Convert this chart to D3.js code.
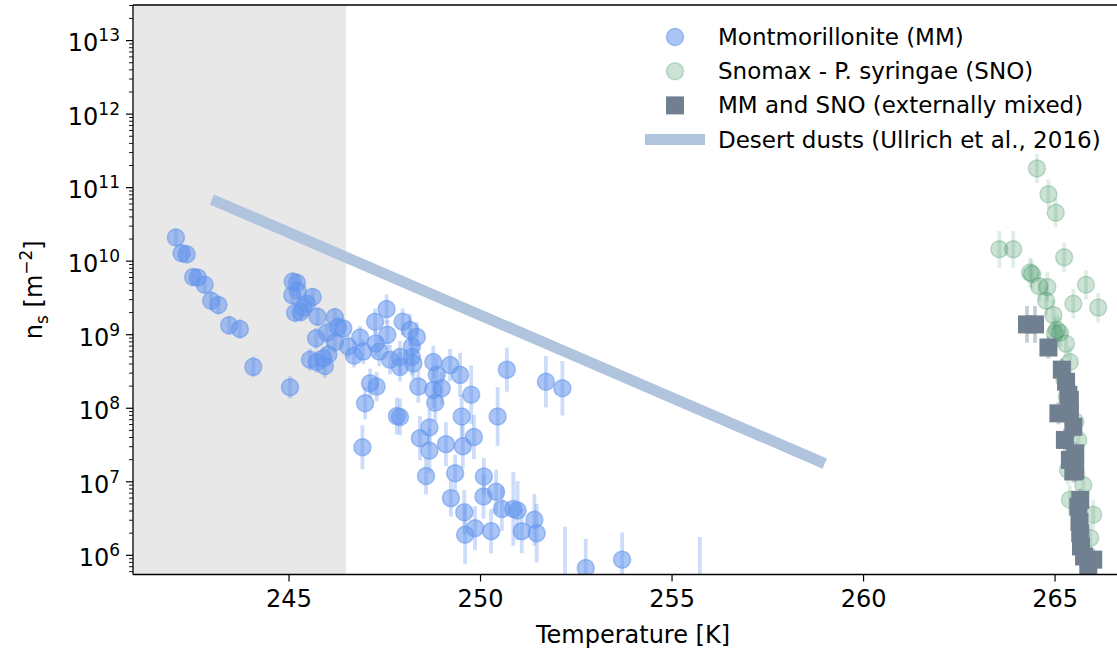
<!DOCTYPE html>
<html>
<head>
<meta charset="utf-8">
<script src="https://cdn.jsdelivr.net/npm/d3@7"></script>
<style>
  body { margin: 0; background: #fff; }
  svg { display: block; font-family: "DejaVu Sans", sans-serif; }
</style>
</head>
<body>
<div id="chart"></div>
<script>
// axis limits and ticks
const xLimits = [240.94, 266.63];
const yLimits = [5.4e5, 3e13];
const xTicks = [245, 250, 255, 260, 265];
const yTickExponents = [6, 7, 8, 9, 10, 11, 12, 13];
const shadedRange = [240.94, 246.5];

// Montmorillonite (MM): temperature [K], ns [m-2], error half-width [decades]
const mmTemp = [242.06, 242.21, 242.34, 242.51, 242.63, 242.81, 242.98, 243.17, 243.45, 243.73, 244.08, 245.04,
  245.11, 245.22, 245.24, 245.10, 245.63, 245.48, 245.39, 245.17, 245.32, 245.76, 246.21, 246.43, 246.29, 246.00,
  245.72, 246.21, 246.04, 245.56, 245.74, 245.91, 245.95, 246.56, 246.87, 246.71, 246.95, 247.26, 247.56, 247.98,
  247.58, 247.28, 247.37, 247.65, 247.91, 248.17, 248.35, 248.22, 248.22, 248.26, 247.91, 248.78, 248.87, 249.22,
  247.13, 247.30, 248.39, 248.78, 249.00, 248.83, 247.00, 247.83, 247.91, 248.68, 248.43, 246.93, 249.48, 249.77,
  249.52, 250.46, 250.70, 251.72, 252.15, 248.68, 249.11, 249.55, 249.84, 248.59, 249.35, 249.24, 250.10, 250.09,
  250.42, 249.59, 250.57, 250.87, 250.98, 251.42, 249.87, 249.61, 250.29, 251.09, 251.48, 252.76, 253.71, 252.22,
  255.74];
const mmNs = [2.07e10, 1.26e10, 1.22e10, 6.0e9, 5.9e9, 4.7e9, 2.85e9, 2.5e9, 1.32e9, 1.18e9, 3.6e8, 1.9e8,
  5.2e9, 5.0e9, 3.9e9, 3.4e9, 3.2e9, 2.6e9, 2.3e9, 1.96e9, 2.0e9, 1.73e9, 1.7e9, 1.2e9, 1.25e9, 1.05e9,
  8.8e8, 7.8e8, 5.3e8, 4.5e8, 4.2e8, 4.7e8, 3.7e8, 6.8e8, 9.0e8, 5.1e8, 5.8e8, 1.48e9, 2.2e9, 1.48e9,
  9.8e8, 7.5e8, 5.8e8, 4.5e8, 4.9e8, 1.14e9, 9.2e8, 6.8e8, 4.9e8, 4.0e8, 3.6e8, 4.2e8, 2.8e8, 3.8e8,
  2.15e8, 1.94e8, 1.94e8, 1.75e8, 1.84e8, 1.17e8, 1.15e8, 7.7e7, 7.5e7, 5.4e7, 3.85e7, 2.9e7, 2.8e8, 1.5e8,
  7.6e7, 7.6e7, 3.3e8, 2.26e8, 1.84e8, 2.6e7, 3.2e7, 3.0e7, 4.0e7, 1.18e7, 1.29e7, 5.9e6, 1.16e7, 6.2e6,
  7.2e6, 3.8e6, 4.2e6, 4.2e6, 4.0e6, 3.0e6, 2.3e6, 1.87e6, 2.1e6, 2.1e6, 1.97e6, 6.6e5, 8.6e5, 4.0e5,
  4.0e5];
const mmErr = [0.12, 0.12, 0.12, 0.12, 0.12, 0.12, 0.13, 0.13, 0.13, 0.13, 0.14, 0.15,
  0.12, 0.12, 0.12, 0.12, 0.12, 0.12, 0.13, 0.13, 0.13, 0.13, 0.13, 0.14, 0.14, 0.14,
  0.14, 0.15, 0.15, 0.15, 0.15, 0.15, 0.16, 0.15, 0.16, 0.16, 0.17, 0.18, 0.2, 0.18,
  0.2, 0.18, 0.2, 0.2, 0.22, 0.22, 0.2, 0.25, 0.25, 0.22, 0.2, 0.22, 0.25, 0.22,
  0.2, 0.2, 0.22, 0.25, 0.22, 0.25, 0.22, 0.25, 0.25, 0.25, 0.3, 0.3, 0.3, 0.4,
  0.3, 0.4, 0.3, 0.35, 0.37, 0.3, 0.3, 0.3, 0.3, 0.25, 0.25, 0.25, 0.25, 0.3,
  0.3, 0.3, 0.3, 0.5, 0.4, 0.35, 0.3, 0.4, 0.3, 0.3, 0.4, 0.4, 0.37, 0.78,
  0.64];

// Snomax - P. syringae (SNO)
const snoTemp = [264.54, 264.84, 265.03, 263.56, 263.92, 265.25, 264.36, 264.41, 264.60, 264.81, 265.82, 264.78,
  265.49, 266.14, 264.97, 265.01, 265.14, 265.06, 265.30, 265.40, 265.26, 265.32, 265.54, 265.62, 265.35, 265.75,
  265.40, 266.01, 265.93];
const snoNs = [1.8e11, 8.0e10, 4.5e10, 1.43e10, 1.43e10, 1.11e10, 6.9e9, 6.6e9, 4.5e9, 4.4e9, 4.7e9, 2.85e9,
  2.6e9, 2.3e9, 1.82e9, 1.03e9, 1.05e9, 1.14e9, 7.4e8, 4.2e8, 2.4e8, 1.42e8, 6.5e7, 3.65e7, 1.43e7, 8.9e6,
  5.6e6, 3.5e6, 1.7e6];
const snoErr = [0.2, 0.2, 0.2, 0.25, 0.25, 0.2, 0.2, 0.2, 0.2, 0.2, 0.2, 0.2,
  0.2, 0.2, 0.2, 0.2, 0.2, 0.2, 0.2, 0.2, 0.2, 0.2, 0.2, 0.2, 0.2, 0.2,
  0.2, 0.2, 0.2];

// MM and SNO (externally mixed)
const mixTemp = [264.28, 264.49, 264.84, 265.19, 265.30, 265.36, 265.40, 265.10, 265.40, 265.49, 265.27, 265.54,
  265.40, 265.49, 265.54, 265.62, 265.67, 265.65, 265.67, 265.69, 265.77, 266.01, 265.88];
const mixNs = [1.36e9, 1.36e9, 6.6e8, 3.3e8, 2.26e8, 1.5e8, 1.28e8, 8.4e7, 8.4e7, 5.5e7, 3.65e7, 2.4e7,
  1.95e7, 1.36e7, 1.4e7, 4.5e6, 5.6e6, 2.8e6, 1.97e6, 1.3e6, 9.5e5, 8.6e5, 6.9e5];
const mixErr = [0.25, 0.25, 0.15, 0.15, 0.15, 0.15, 0.15, 0.15, 0.15, 0.15, 0.15, 0.15,
  0.15, 0.15, 0.15, 0.15, 0.15, 0.15, 0.15, 0.15, 0.15, 0.15, 0.15];

// Desert dusts (Ullrich et al., 2016) end points
const dustTemp = [243, 259];
const dustNs = [6.8e10, 1.74e7];

const legendLabels = ['Montmorillonite (MM)', 'Snomax - P. syringae (SNO)',
  'MM and SNO (externally mixed)', 'Desert dusts (Ullrich et al., 2016)'];

(function () {

  const width = 1117;
  const height = 657;
  const plot = { left: 133, right: 1117, top: 5, bottom: 574.5 };

  const svg = d3.select('#chart')
    .append('svg')
    .attr('width', width)
    .attr('height', height);

  const x = d3.scaleLinear().domain(xLimits).range([plot.left, plot.right]);
  const y = d3.scaleLog().domain(yLimits).range([plot.bottom, plot.top]);

  // clip everything to the axes box
  svg.append('defs').append('clipPath').attr('id', 'clip')
    .append('rect')
    .attr('x', plot.left).attr('y', plot.top)
    .attr('width', plot.right - plot.left).attr('height', plot.bottom - plot.top);

  const area = svg.append('g').attr('clip-path', 'url(#clip)');

  // shaded temperature range
  area.append('rect')
    .attr('x', x(shadedRange[0]))
    .attr('y', plot.top)
    .attr('width', x(shadedRange[1]) - x(shadedRange[0]))
    .attr('height', plot.bottom - plot.top)
    .attr('fill', '#e8e8e8');

  const zip = (t, n, e) => t.map((d, i) => ({ t: d, ns: n[i], err: e[i] }));
  const mm = zip(mmTemp, mmNs, mmErr);
  const sno = zip(snoTemp, snoNs, snoErr);
  const mix = zip(mixTemp, mixNs, mixErr);

  // draws vertical error bars
  function errorBars(data, color, opacity) {
    area.append('g')
      .selectAll('line')
      .data(data)
      .join('line')
      .attr('x1', d => x(d.t))
      .attr('x2', d => x(d.t))
      .attr('y1', d => y(d.ns / Math.pow(10, d.err)))
      .attr('y2', d => y(d.ns * Math.pow(10, d.err)))
      .attr('stroke', color)
      .attr('stroke-opacity', opacity)
      .attr('stroke-width', 3.8);
  }

  // MM
  errorBars(mm, '#6495ed', 0.33);
  area.append('g')
    .selectAll('circle')
    .data(mm)
    .join('circle')
    .attr('cx', d => x(d.t))
    .attr('cy', d => y(d.ns))
    .attr('r', 8.5)
    .attr('fill', '#6495ed')
    .attr('fill-opacity', 0.55)
    .attr('stroke', '#6495ed')
    .attr('stroke-opacity', 0.55)
    .attr('stroke-width', 1.5);

  // SNO
  errorBars(sno, '#2e8b57', 0.15);
  area.append('g')
    .selectAll('circle')
    .data(sno)
    .join('circle')
    .attr('cx', d => x(d.t))
    .attr('cy', d => y(d.ns))
    .attr('r', 8.5)
    .attr('fill', '#2e8b57')
    .attr('fill-opacity', 0.25)
    .attr('stroke', '#2e8b57')
    .attr('stroke-opacity', 0.25)
    .attr('stroke-width', 1.5);

  // mixed
  errorBars(mix, '#708090', 0.4);
  area.append('g')
    .selectAll('rect')
    .data(mix)
    .join('rect')
    .attr('x', d => x(d.t) - 9)
    .attr('y', d => y(d.ns) - 9)
    .attr('width', 18)
    .attr('height', 18)
    .attr('fill', '#708090');

  // desert dust parameterisation
  area.append('path')
    .datum(dustTemp.map((t, i) => [t, dustNs[i]]))
    .attr('d', d3.line().x(d => x(d[0])).y(d => y(d[1])))
    .attr('stroke', '#b0c4de')
    .attr('stroke-width', 11)
    .attr('fill', 'none');

  // x axis
  const xAxis = svg.append('g')
    .attr('transform', `translate(0,${plot.bottom})`)
    .call(d3.axisBottom(x).tickValues(xTicks).tickSize(7).tickPadding(8).tickFormat(d3.format('d')));
  xAxis.select('.domain').remove();
  xAxis.selectAll('line').attr('stroke', '#000').attr('stroke-width', 1.2);
  xAxis.selectAll('text').attr('font-size', 24).attr('fill', '#000').attr('font-family', 'DejaVu Sans');

  // y axis major ticks with power labels
  const yMajor = yTickExponents.map(e => Math.pow(10, e));
  const yAxis = svg.append('g')
    .attr('transform', `translate(${plot.left},0)`)
    .call(d3.axisLeft(y).tickValues(yMajor).tickSize(7).tickPadding(6).tickFormat(''));
  yAxis.select('.domain').remove();
  yAxis.selectAll('line').attr('stroke', '#000').attr('stroke-width', 1.2);
  yAxis.selectAll('.tick text')
    .attr('font-size', 24)
    .attr('fill', '#000')
    .attr('font-family', 'DejaVu Sans')
    .attr('dy', '0.45em')
    .each(function (d) {
      const t = d3.select(this);
      t.append('tspan').text('10');
      t.append('tspan').attr('dy', -10).attr('font-size', 17).text(Math.round(Math.log10(d)));
    });

  // y axis minor ticks
  const yMinor = [];
  for (let e = 5; e <= 13; e++) {
    for (let m = 2; m <= 9; m++) {
      const v = m * Math.pow(10, e);
      if (v >= yLimits[0] && v <= yLimits[1]) yMinor.push(v);
    }
  }
  const yMinorAxis = svg.append('g')
    .attr('transform', `translate(${plot.left},0)`)
    .call(d3.axisLeft(y).tickValues(yMinor).tickSize(4).tickFormat(''));
  yMinorAxis.select('.domain').remove();
  yMinorAxis.selectAll('line').attr('stroke', '#000').attr('stroke-width', 0.9);

  // spines (right one is outside the picture)
  const spines = svg.append('g').attr('stroke', '#000').attr('stroke-width', 1.3);
  spines.append('line').attr('x1', plot.left).attr('x2', plot.left).attr('y1', plot.top).attr('y2', plot.bottom);
  spines.append('line').attr('x1', plot.left).attr('x2', plot.right).attr('y1', plot.bottom).attr('y2', plot.bottom);
  spines.append('line').attr('x1', plot.left).attr('x2', plot.right).attr('y1', plot.top).attr('y2', plot.top);

  // axis labels
  svg.append('text')
    .attr('x', 633)
    .attr('y', 643)
    .attr('text-anchor', 'middle')
    .attr('font-size', 24)
    .text('Temperature [K]');

  const yLabel = svg.append('text')
    .attr('transform', `translate(42,${(plot.top + plot.bottom) / 2}) rotate(-90)`)
    .attr('text-anchor', 'middle')
    .attr('font-size', 24);
  yLabel.append('tspan').text('n');
  yLabel.append('tspan').attr('dy', 6).attr('font-size', 17).text('s');
  yLabel.append('tspan').attr('dy', -6).text(' [m');
  yLabel.append('tspan').attr('dy', -10).attr('font-size', 17).text('\u22122');
  yLabel.append('tspan').attr('dy', 10).text(']');

  // legend
  const legend = svg.append('g').attr('transform', 'translate(675,37)');
  const rowGap = 34.2;
  const rows = legend.selectAll('g')
    .data(legendLabels)
    .join('g')
    .attr('transform', (d, i) => `translate(0,${i * rowGap})`);

  rows.append('text')
    .attr('x', 43)
    .attr('dy', '0.35em')
    .attr('font-size', 23)
    .text(d => d);

  legend.append('circle').attr('r', 8.5)
    .attr('fill', '#6495ed').attr('fill-opacity', 0.55)
    .attr('stroke', '#6495ed').attr('stroke-opacity', 0.55).attr('stroke-width', 1.5);
  legend.append('circle').attr('cy', rowGap).attr('r', 8.5)
    .attr('fill', '#2e8b57').attr('fill-opacity', 0.25)
    .attr('stroke', '#2e8b57').attr('stroke-opacity', 0.25).attr('stroke-width', 1.5);
  legend.append('rect').attr('x', -9).attr('y', 2 * rowGap - 9).attr('width', 18).attr('height', 18)
    .attr('fill', '#708090');
  legend.append('line').attr('x1', -30).attr('x2', 30).attr('y1', 3 * rowGap).attr('y2', 3 * rowGap)
    .attr('stroke', '#b0c4de').attr('stroke-width', 11);

})();
</script>
</body>
</html>
